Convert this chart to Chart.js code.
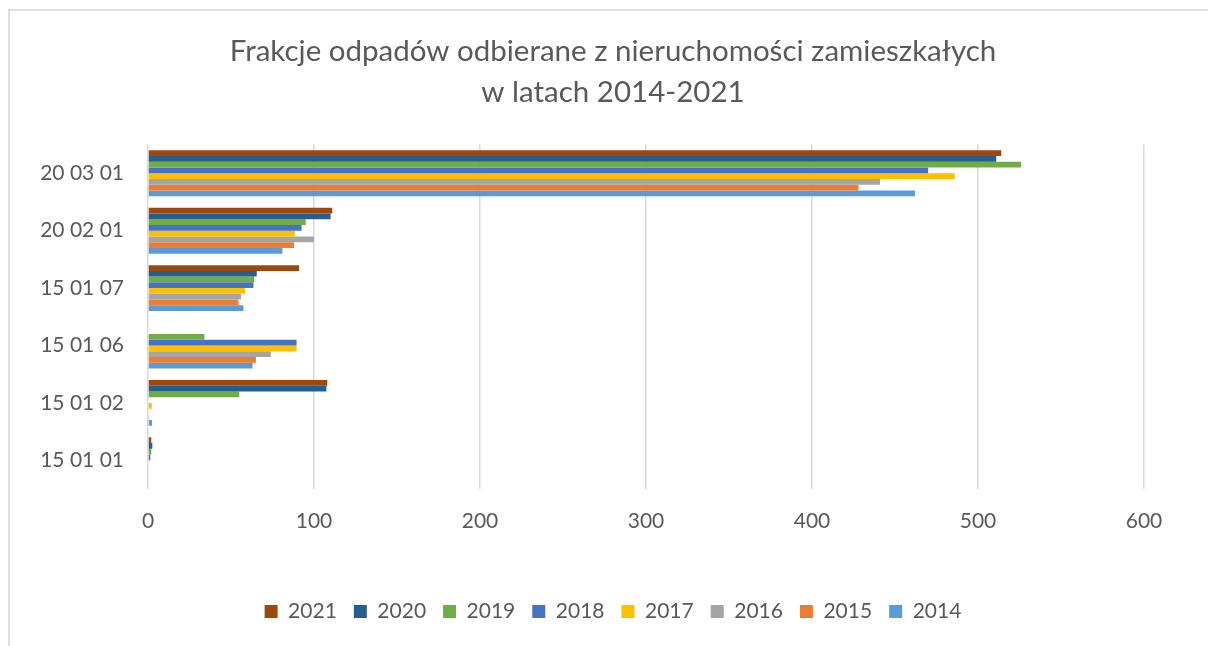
<!DOCTYPE html>
<html lang="pl">
<head>
    <meta charset="UTF-8">
    <title>Frakcje odpadów 2014-2021</title>
    <script src="https://cdn.jsdelivr.net/npm/chart.js"></script>
    <style>
        html, body { margin: 0; padding: 0; background: #fff; }
        .ramka {
            position: absolute;
            left: 8px;
            top: 9px;
            width: 1300px;
            height: 700px;
            border-left: 2px solid #dedede;
            border-top: 2px solid #dedede;
        }
        #wykres { position: absolute; left: 0; top: 0; }
    </style>
</head>
<body>
    <div class="ramka"></div>
    <canvas id="wykres" width="1208" height="646"></canvas>

    <script>
        // kody odpadów (od góry do dołu)
        const kody = ['20 03 01', '20 02 01', '15 01 07', '15 01 06', '15 01 02', '15 01 01'];

        // masy odpadów w kolejnych latach [Mg]
        const r2021 = [514, 111, 91, null, 108, 2];
        const r2020 = [511, 110, 65.5, null, 107.5, 2.6];
        const r2019 = [526, 95, 64, 34, 55, 2];
        const r2018 = [470, 92.5, 63.5, 89.5, null, 1.4];
        const r2017 = [486, 88.5, 58.5, 89.5, 2.3, null];
        const r2016 = [441, 100, 56, 74, 0.5, null];
        const r2015 = [428, 88, 54.5, 65, 0.3, null];
        const r2014 = [462, 81, 57.5, 63, 2.4, null];

        const lata = ['2021', '2020', '2019', '2018', '2017', '2016', '2015', '2014'];
        const wartosci = [r2021, r2020, r2019, r2018, r2017, r2016, r2015, r2014];
        const kolory = ['#9E480E', '#255E91', '#70AD47', '#4472C4', '#FFC000', '#A5A5A5', '#ED7D31', '#5B9BD5'];

        const osX = [0, 100, 200, 300, 400, 500, 600];

        const szary = '#595959';
        const czcionka = 'Lato, "DejaVu Sans", sans-serif';

        new Chart(document.getElementById('wykres'), {
            type: 'bar',
            data: {
                labels: kody,
                datasets: lata.map((rok, i) => ({
                    label: rok,
                    data: wartosci[i],
                    backgroundColor: kolory[i],
                    categoryPercentage: 0.8,
                    barPercentage: 1.0
                }))
            },
            options: {
                indexAxis: 'y',
                responsive: false,
                animation: false,
                // marginesy dobrane tak, by tytuł i legenda były na środku ramki
                layout: {
                    padding: { left: 41, right: 23, top: 0, bottom: 14 }
                },
                plugins: {
                    title: {
                        display: true,
                        text: ['Frakcje odpadów odbierane z nieruchomości zamieszkałych', 'w latach 2014-2021'],
                        color: szary,
                        font: { family: czcionka, size: 29.5, weight: 'normal', lineHeight: 1.4 },
                        padding: { top: 31, bottom: 31 }
                    },
                    legend: {
                        position: 'bottom',
                        labels: {
                            color: szary,
                            font: { family: czcionka, size: 21 },
                            boxWidth: 13,
                            boxHeight: 13,
                            padding: 17
                        }
                    },
                    tooltip: { enabled: false }
                },
                scales: {
                    x: {
                        min: 0,
                        max: 600,
                        afterBuildTicks: (skala) => {
                            skala.ticks = osX.map(v => ({ value: v }));
                        },
                        afterFit: (skala) => { skala.height = 95; },
                        grid: { color: '#d9d9d9', lineWidth: 1.5, drawTicks: false },
                        border: { display: false },
                        ticks: {
                            color: szary,
                            font: { family: czcionka, size: 21 },
                            padding: 20
                        }
                    },
                    y: {
                        afterFit: (skala) => { skala.width = 107; },
                        grid: { display: false, drawTicks: false },
                        border: { display: false },
                        ticks: {
                            color: szary,
                            font: { family: czcionka, size: 21 },
                            padding: 24
                        }
                    },
                    // pusta oś po prawej - wolne miejsce za wartością 600
                    prawa: {
                        type: 'linear',
                        position: 'right',
                        afterFit: (skala) => { skala.width = 41; },
                        grid: { display: false, drawTicks: false },
                        border: { display: false },
                        ticks: { display: false }
                    }
                }
            }
        });
    </script>
</body>
</html>
